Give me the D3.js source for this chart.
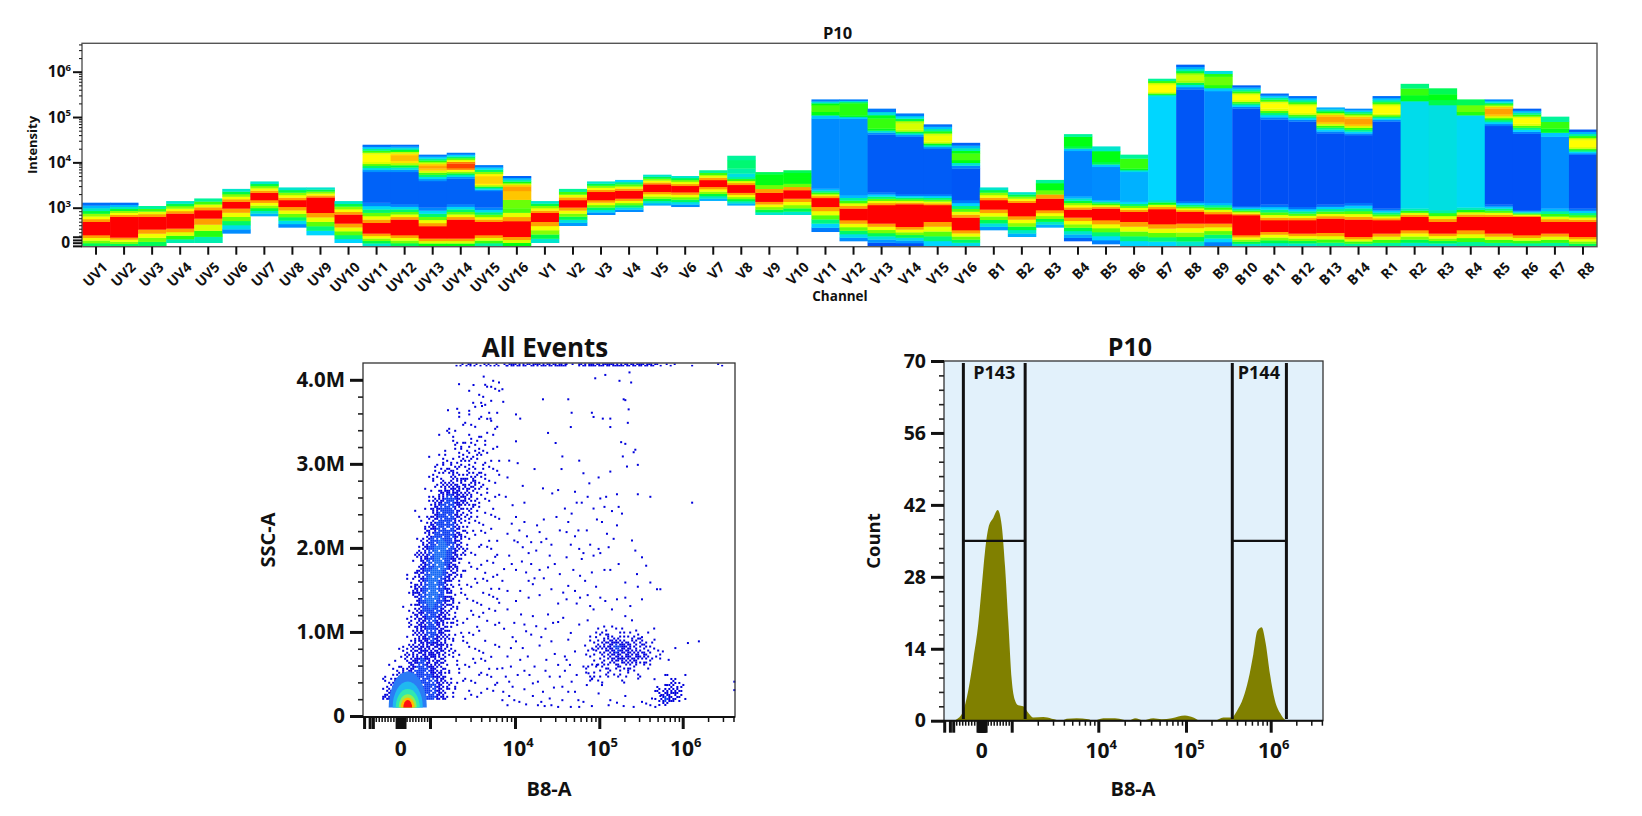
<!DOCTYPE html>
<html>
<head>
<meta charset="utf-8">
<title>P10 spectral and B8-A plots</title>
<script src="https://cdnjs.cloudflare.com/ajax/libs/d3/7.8.5/d3.min.js"></script>
<style>
  html, body { margin: 0; padding: 0; background: #fff; }
  svg { display: block; }
  text { font-family: "Open Sans", "Noto Sans", sans-serif; font-weight: 700; fill: #111; }
  .domain { display: none; }
</style>
</head>
<body>
<svg id="chart" width="1642" height="816"></svg>
<script>
// ---- Spectral ribbon: one column per detector channel ----
const channels = ["UV1","UV2","UV3","UV4","UV5","UV6","UV7","UV8","UV9","UV10","UV11","UV12","UV13","UV14","UV15","UV16",
  "V1","V2","V3","V4","V5","V6","V7","V8","V9","V10","V11","V12","V13","V14","V15","V16",
  "B1","B2","B3","B4","B5","B6","B7","B8","B9","B10","B11","B12","B13","B14",
  "R1","R2","R3","R4","R5","R6","R7","R8"];

// Lower edge of each column
const bottomEdge = [-86,-86,-86,0,0,267,762,438,219,0,-86,-86,-86,-86,-86,-86,
  0,486,800,886,1130,1050,1430,1130,800,800,314,48,-86,-86,-86,-86,
  362,171,438,48,-38,-86,-86,-86,-86,-86,-86,-86,-86,-86,
  -86,-86,-86,-86,-86,-86,-86,-86];
// Negative-population peak (red band)
const redLow = [219,152,381,410,695,981,1480,1050,857,552,267,219,124,124,219,171,
  600,1020,1480,1600,2250,2200,2900,2150,1360,1600,1050,648,552,457,600,362,
  952,762,933,724,648,600,533,552,552,219,314,267,286,171,
  267,362,267,362,267,219,267,171];
const redHigh = [600,743,743,838,933,1360,2150,1480,1700,810,571,667,476,667,600,619,
  857,1480,2250,2400,3300,3050,4100,3200,2150,2450,1650,981,1150,1200,1150,724,
  1480,1290,1600,952,981,886,962,886,819,790,648,648,695,667,
  648,743,600,743,743,743,600,600];
const lowerTop = [1290,1290,1090,1400,1600,2600,3800,2800,2800,1400,1300,1200,1020,1200,1020,981,
  1400,2600,3800,4100,5350,5000,6700,4800,3200,3400,2650,1900,2200,2000,2000,1480,
  2800,2200,2450,1800,1500,1360,1480,1400,1290,1100,1190,1050,1190,1290,
  981,981,933,1020,1190,933,981,981];
// Density level of the gap between the two populations (null: single population)
const valleyLevel = [null,null,null,null,null,null,null,null,null,null,0.3,0.3,0.3,0.3,0.3,3.8,
  null,null,null,null,null,null,null,2.3,4,4,1,1.05,0.2,0.2,0.2,0.1,
  null,null,4,0.9,1,1.5,2,0.1,1,0,0,0,0,0,
  0,2.2,2.3,2.1,0,0,1,0];
const plateauTop = [null,null,null,null,null,null,null,null,null,null,6200,6200,3900,4400,2350,981,
  null,null,null,null,null,null,null,5700,4800,4800,92000,92000,41500,37000,20000,7400,
  null,null,3200,18000,8000,6200,290000,410000,375000,155000,89000,80000,44000,40000,
  80000,225000,184000,110000,64000,43000,37000,14800];
// Positive-population peak
const upperLow = [null,null,null,null,null,null,null,null,null,null,10300,10900,7400,7600,3400,2350,
  null,null,null,null,null,null,null,7400,4800,4800,131000,110000,56000,53000,29000,11300,
  null,null,3200,23000,10300,7400,360000,650000,510000,240000,155000,125000,79000,70000,
  120000,305000,240000,131000,116000,72000,56000,22000];
const upperHigh = [null,null,null,null,null,null,null,null,null,null,15000,14500,8400,9500,5000,2900,
  null,null,null,null,null,null,null,11300,5500,5900,184000,200000,94000,72000,39000,15800,
  null,null,3500,37000,17800,12200,510000,840000,780000,305000,200000,175000,102000,94000,
  175000,430000,320000,184000,155000,94000,79000,31000];
const upperLevel = [null,null,null,null,null,null,null,null,null,null,6,6.7,7,7.6,6.5,7,
  null,null,null,null,null,null,null,3.3,4,4,4.4,4.2,4.3,5.5,5.8,4.4,
  null,null,4,4,4,4.3,6,5.3,4.6,6,6,6,7,7,
  6,4.3,4,4.6,7,6,4.3,6];
const topEdge = [1290,1290,1090,1400,1600,2600,3800,2800,2800,1400,24500,24500,14800,16300,8700,5000,
  1400,2600,3800,4100,5350,5000,6700,14000,6100,6700,245000,245000,153000,120000,69000,27000,
  2800,2200,4100,42000,22500,14800,700000,1430000,1040000,500000,330000,290000,163000,153000,
  290000,540000,430000,245000,245000,153000,102000,53000];
// Density level reached at each column's two ends
const bottomLevel = [3.5,3.5,3.5,2.8,2.8,1,1.5,1,2,2,2.5,3.5,4,4,3,4,
  2.5,1.2,1,1,1.5,1,1.5,1.5,2.5,2.5,0.7,1,0,0,2,2.2,
  1.2,1.5,1.5,0.3,0.8,2,2,2.5,0.8,2.5,2.5,2.5,3,3,
  3,2.5,2.5,3,3,3,3,3.5];
const topLevel = [0.5,0.5,3,2.5,3,2.5,2.5,2.5,2.5,2.5,0.5,0.5,0.7,0.7,0.7,0.3,
  2.5,3,2.5,2,2.5,2.5,3,3,3.5,3.5,0.8,0.8,0.7,0.7,0.5,0.3,
  2.5,2.5,3,3,2.5,3,3,0.3,2.3,0.3,0.5,0.5,1.5,1,
  0.5,3.2,3.5,3.5,1,0.3,3,0.2];

const levelStops = [0,1,2,3,4,5,6,7,8];
const levelColors = ["#0050f5","#008cff","#00d6ff","#00f59a","#00ff14","#b0ff00","#ffff00","#ffa000","#ff0000"];

// ---- SSC-A vs B8-A dot plot ----
// Fill level on a 0-6 scale, rows by SSC-A (M), columns by B8-A
const mainColumns = [-700,-350,0,350,700,1000,1300,1700,2200,2900,3900,5000,6600];
const mainRows = [4.0,3.8,3.6,3.4,3.2,3.0,2.8,2.6,2.4,2.2,2.0,1.8,1.6,1.4,1.2,1.0,0.8,0.6,0.4,0.2];
const mainDensity = [
  [0,0,0,0,0,0,0,0,0,0,1,1,1],
  [0,0,0,0,0,0,0,0,0,1,1,1,1],
  [0,0,0,0,0,0,0,1,1,1,1,1,1],
  [0,0,0,0,0,0,0,1,1,1,1,1,1],
  [0,0,0,0,0,0,1,1,2,2,2,1,1],
  [0,0,0,0,0,1,2,2,2,2,2,1,1],
  [0,0,0,0,0,1,2,3,3,3,2,1,1],
  [0,0,0,0,0,2,4,5,4,3,2,1,1],
  [0,0,0,0,1,3,5,5,3,2,1,1,1],
  [0,0,0,0,1,4,5,5,3,1,1,1,1],
  [0,0,0,0,3,5,6,5,3,1,1,1,1],
  [0,0,0,1,4,5,6,4,2,1,1,1,1],
  [0,0,0,2,4,6,5,3,1,1,1,1,1],
  [0,0,0,2,5,6,5,3,1,1,1,1,1],
  [0,0,0,2,4,5,4,3,1,1,1,1,1],
  [0,0,0,2,4,5,4,2,1,1,1,0,1],
  [0,0,1,3,4,4,4,2,1,1,1,1,1],
  [0,1,2,4,5,4,3,1,1,1,1,1,1],
  [1,3,5,5,5,5,4,2,1,1,1,1,1],
  [3,5,5,5,5,5,4,2,1,1,1,1,1]
];
// Positive cluster near 10^5
const clusterAColumns = [68000,102000,155000,234000,347000,525000];
const clusterARows = [1.1,1.0,0.85,0.7,0.55,0.4];
const clusterADensity = [
  [0,1,1,1,0,0],
  [0,2,2,2,1,0],
  [1,3,5,3,3,0],
  [1,2,4,4,3,1],
  [2,2,2,2,1,0],
  [1,1,1,1,0,0]
];
// Bright cluster near 10^6
const clusterBColumns = [457000,603000,794000,1050000];
const clusterBRows = [0.5,0.4,0.3,0.2,0.12];
const clusterBDensity = [
  [0,1,1,0],
  [0,2,3,1],
  [2,4,4,1],
  [2,5,3,1],
  [0,1,1,0]
];
const fillLevels = [0,1,2,3,4,5,6];
const fillFractions = [0,0.06,0.2,0.42,0.65,0.85,0.95];
const ditherMatrix = [
  [37,2,51,18,43,11,60,27],
  [14,55,30,7,62,34,5,48],
  [41,22,0,46,20,52,25,57],
  [9,59,35,13,39,3,44,16],
  [50,28,6,54,24,63,31,1],
  [19,42,61,33,10,47,12,38],
  [56,4,23,49,29,15,58,26],
  [32,45,17,8,53,36,21,40]
];
// Nested density contours of the negative population: half-width (B8-A), top (SSC-A M), colour
const coreHalfWidth = [650,515,410,310,240,150];
const coreTop = [0.53,0.41,0.32,0.26,0.22,0.19];
const coreColors = ["#2a7cf5","#20b8f0","#30e8b0","#90f050","#ffc000","#ff1010"];
// Individual sparse events: log10(B8-A), SSC-A (M)
const sparseEvents = [
  [3.33,3.96],[3.5,3.95],[3.62,4.05],[3.66,3.93],[3.8,3.98],[3.84,3.9],[3.2,3.65],[3.45,3.6],[3.6,3.7],[3.7,3.55],[3.85,3.75],
  [4.0,3.6],[4.05,3.55],[4.32,3.78],[4.62,3.78],[4.66,3.62],[4.65,3.45],[4.94,4.03],[5.06,4.07],[4.9,3.62],[4.92,3.57],[5.03,3.55],
  [5.12,3.55],[5.12,3.45],[5.33,3.5],[5.34,3.66],[5.35,4.1],[5.37,3.98],[5.23,4.0],[5.28,3.78],[5.3,3.77],[4.38,3.38],[4.47,3.26],
  [4.0,3.28],[4.02,3.02],[3.92,3.05],[3.9,2.85],[4.08,2.75],[4.32,2.72],[4.22,2.95],[4.55,3.1],[4.54,2.95],[4.75,3.05],[4.8,2.9],
  [4.87,2.78],[4.98,2.85],[5.07,2.62],[5.12,2.92],[5.2,2.65],[5.32,2.98],[5.27,3.1],[5.3,3.25],[5.25,3.27],[5.42,3.18],[5.45,3.0],
  [5.4,3.15],[5.6,2.62],[6.1,2.55],[5.45,2.65],[5.05,2.5],[5.0,2.6],[4.85,2.62],[4.78,2.55],[4.72,2.55],[4.5,2.7],[4.43,2.66],
  [4.1,2.55],[4.0,2.38],[3.95,2.3],[3.9,2.18],[3.98,2.1],[3.92,1.92],[3.95,1.82],[3.86,1.76],[3.84,1.62],[3.9,1.5],[4.0,1.75],
  [4.07,1.85],[4.02,2.08],[4.1,2.32],[4.13,2.15],[4.18,2.08],[4.15,1.95],[4.24,1.98],[4.3,2.08],[4.33,2.35],[4.4,1.92],[4.38,1.78],
  [4.28,1.75],[4.33,1.65],[4.2,1.58],[4.15,1.62],[4.05,1.5],[4.0,1.38],[4.15,1.42],[4.28,1.45],[4.42,1.52],[4.5,1.35],[4.52,1.7],
  [4.6,1.9],[4.65,2.05],[4.52,2.22],[4.6,2.2],[4.7,2.15],[4.75,2.0],[4.68,1.75],[4.82,1.62],[4.9,1.72],[4.98,2.0],[5.0,1.95],
  [4.96,2.35],[5.02,2.32],[5.1,2.02],[5.12,1.75],[5.05,1.75],[5.22,1.82],[5.38,2.1],[5.5,1.9],[5.55,1.8],[5.42,1.98],[5.6,1.6],
  [5.68,1.52],[5.72,1.52],[5.45,1.55],[5.3,1.6],[4.95,1.55],[4.85,1.45],[4.72,1.35],[4.6,1.4],[3.9,1.28],[3.86,1.05],[3.96,0.95],
  [4.1,1.1],[3.98,1.12],[4.2,1.2],[4.35,1.05],[4.5,1.13],[4.62,0.92],[4.65,1.0],[4.42,0.9],[4.28,0.85],[4.05,0.68],[3.9,0.72],
  [3.84,0.58],[4.02,0.5],[3.92,0.42],[3.85,0.3],[4.1,0.33],[4.2,0.25],[4.3,0.18],[4.12,0.15],[3.98,0.2],[4.4,0.22],[4.45,0.35],
  [4.5,0.12],[4.55,0.2],[4.62,0.3],[4.66,0.42],[4.72,0.5],[4.8,0.6],[4.84,0.38],[4.9,0.45],[4.5,0.62],[4.35,0.55],[4.22,0.6],
  [4.98,0.28],[5.02,0.38],[5.12,0.2],[5.2,0.17],[5.3,0.25],[5.4,0.12],[5.5,0.18],[5.55,0.16],[5.62,0.22],[5.72,0.25],[5.65,0.45],
  [5.78,0.5],[5.9,0.82],[6.05,0.88],[6.18,0.9],[6.02,0.5],[4.7,0.78],[4.75,1.1],[4.85,1.15],[5.3,1.2],[5.38,1.15],[4.95,0.95],
  [4.82,0.85],[5.5,0.95],[5.65,0.92],[5.75,0.78],[5.82,0.68],[4.58,0.72],[5.8,0.38],[4.8,0.18],[4.65,0.12],[3.9,0.14],[4.75,0.12],
  [6.6,0.32],[6.6,0.42],
  [3.88,2.62],[3.96,2.52],[4.04,2.22],[4.08,2.02],[4.12,1.72],[4.18,1.82],[4.22,1.65],[4.25,2.28],[4.28,2.2],[4.36,2.12],[4.42,2.05],
  [4.46,1.82],[4.48,2.38],[4.58,2.48],[4.62,2.32],[4.66,2.42],[4.7,2.68],[4.74,2.22],[4.78,1.88],[4.8,1.95],[4.84,2.22],[4.88,2.05],
  [4.92,1.92],[5.08,2.18],[5.16,2.12],[5.2,2.28],[5.14,2.45],[5.26,2.42],[5.22,2.5],[4.92,2.48],[4.06,1.22],[4.12,1.02],[4.18,0.98],
  [4.24,1.08],[4.3,0.95],[4.38,1.22],[4.44,1.12],[4.56,1.18],[4.56,1.48],[4.62,1.56],[4.7,1.5],[4.76,1.42],[4.76,1.68],[4.88,1.32],
  [4.92,1.28],[5.0,1.42],[5.06,1.38],[5.14,1.28],[5.2,1.4],[5.3,1.42],[5.36,1.32],[5.44,1.7],[5.5,1.4],[3.94,0.82],[4.0,0.9],[4.08,0.82],
  [4.14,0.72],[4.2,0.4],[4.26,0.42],[4.32,0.3],[4.36,0.68],[4.4,0.48],[4.46,0.75],[4.52,0.48],[4.55,0.36],[4.58,0.55],[4.6,0.68],
  [4.64,0.62],[4.7,0.3],[4.74,0.2],[3.92,0.25],[3.96,0.36],[4.04,0.18],[4.1,0.55],[4.16,0.5],[3.88,0.48],[3.84,0.2],[3.94,0.6],
  [4.26,0.14],[4.34,0.13],[4.42,0.14],[4.9,0.13],[5.1,0.14],[5.28,0.13],[5.6,0.14],[5.66,0.12],[4.88,0.72],[4.92,0.8],[4.96,0.62],[4.86,0.52]
];
// Off-scale events collected along the top edge: log10 start, log10 end, fill fraction
const saturatedRuns = [[3.3,3.9,0.35],[3.9,4.6,0.65],[4.6,4.75,0.2],[4.75,5.7,0.7],[5.7,6.0,0.12],[6.1,6.6,0.08]];

// ---- B8-A histogram ----
const histValues = [-1000,-833,-611,-444,-278,-111,0,111,222,389,533,667,778,889,1000,1090,1190,1360,1560,1780,2320,2900,3780,4310,5620,7670,8750,
  11400,15500,19300,22000,26200,32600,42400,52700,68700,97400,122000,146000,220000,276000,346000,396000,475000,545000,624000,696000,783000,873000,982000,1120000,1290000,1480000,1780000];
const histCounts = [0,0.3,2,6,12,19,26,33,37.5,39.5,41,38,30,19,8,4,3,2.8,1.5,0.6,0.7,0.4,0,0.4,0.5,0.3,0,
  0.5,0.5,0.2,0,0.5,0.1,0.5,0.3,0.5,1,0.6,0,0,0.6,0.6,1.8,4.5,8,13,17.5,18.2,15,9,4,1.5,0.2,0];
const gateNames = ["P143","P144"];
const gateLow = [-611,352000];
const gateHigh = [1430,1530000];
const gateCount = 35;

const longFineTicks = [-1250,-1060,-950,-140,-110,-80,-50,-20,10,40,70,100,130,1000,10000,100000,1000000];
const shortFineTicks = [-850,-750,-650,-550,-450,-350,-250,200,300,400,500,600,700,800,900,
  2000,3000,4000,5000,6000,7000,8000,9000,20000,30000,40000,50000,60000,70000,80000,90000,
  200000,300000,400000,500000,600000,700000,800000,900000,2000000,3000000,4000000];

// Display transform shared by the intensity axes: linear up to 1000, then decades
const displayUnit = v => v <= 1000 ? v / 1000 : 1 + Math.log10(v / 1000);
const svg = d3.select("#chart");
const levelColor = d3.scaleLinear().domain(levelStops).range(levelColors).interpolate(d3.interpolateRgb);

function exponentLabel(sel, size) {
  sel.each(function (d) {
    const t = d3.select(this);
    const e = t.attr("data-exp");
    t.text(null);
    if (e === "zero") { t.text("0"); return; }
    t.append("tspan").text("10");
    t.append("tspan").attr("dy", -size * 0.42).attr("font-size", size * 0.62).text(e);
  });
}

/* ---------- Spectral ribbon ---------- */
const ribbon = { left: 82, right: 1597, top: 43.3, bottom: 246.7 };
const xChannel = d3.scaleBand().domain(channels).range([ribbon.left, ribbon.right]);
const yIntensity = d3.scaleLinear()
  .domain([displayUnit(-114), 0, 1, 4, 4.627])
  .range([ribbon.bottom, 242.7, 207.7, 71.7, ribbon.top]);
const yI = v => yIntensity(displayUnit(v));

svg.append("defs").append("clipPath").attr("id", "ribbon-clip").append("rect")
  .attr("x", ribbon.left).attr("y", ribbon.top)
  .attr("width", ribbon.right - ribbon.left).attr("height", ribbon.bottom - ribbon.top);

function rampBands(y0, level0, y1, level1) {
  const n = Math.max(1, Math.round(Math.abs(level1 - level0)));
  const pos = d3.scaleLinear().domain([0, n]).range([y0, y1]);
  const lev = d3.scaleLinear().domain([0, Math.max(1, n - 1)]).range([level0, level1]);
  return d3.range(n).map(i => ({ a: pos(i), b: pos(i + 1), level: n === 1 ? level1 : lev(i) }));
}
function columnBands(i) {
  const bands = [];
  const flat = (y0, y1, level) => bands.push({ a: y0, b: y1, level });
  bands.push(...rampBands(yI(bottomEdge[i]), bottomLevel[i], yI(redLow[i]), 7));
  flat(yI(redLow[i]), yI(redHigh[i]), 8);
  if (valleyLevel[i] === null) {
    bands.push(...rampBands(yI(redHigh[i]), 7, yI(lowerTop[i]), topLevel[i]));
  } else {
    bands.push(...rampBands(yI(redHigh[i]), 7, yI(lowerTop[i]), valleyLevel[i] + 0.6));
    flat(yI(lowerTop[i]), yI(plateauTop[i]), valleyLevel[i]);
    bands.push(...rampBands(yI(plateauTop[i]), valleyLevel[i] + 0.8, yI(upperLow[i]), upperLevel[i] - 0.4));
    flat(yI(upperLow[i]), yI(upperHigh[i]), upperLevel[i]);
    bands.push(...rampBands(yI(upperHigh[i]), upperLevel[i] - 0.4, yI(topEdge[i]), topLevel[i]));
  }
  return bands;
}
const ribbonG = svg.append("g").attr("clip-path", "url(#ribbon-clip)");
ribbonG.selectAll("g").data(channels).join("g").each(function (c, i) {
  d3.select(this).selectAll("rect").data(columnBands(i)).join("rect")
    .attr("x", xChannel(c))
    .attr("width", xChannel.bandwidth() + 0.4)
    .attr("y", d => Math.min(d.a, d.b))
    .attr("height", d => Math.abs(d.b - d.a) + 0.3)
    .attr("fill", d => levelColor(d.level));
});
svg.append("rect").attr("x", ribbon.left).attr("y", ribbon.top)
  .attr("width", ribbon.right - ribbon.left).attr("height", ribbon.bottom - ribbon.top)
  .attr("fill", "none").attr("stroke", "#555").attr("stroke-width", 1.4);

const xRibbonAxis = svg.append("g").attr("transform", `translate(0,${ribbon.bottom})`)
  .call(d3.axisBottom(xChannel).tickSize(8).tickPadding(3));
xRibbonAxis.selectAll(".tick line").attr("stroke", "#111").attr("stroke-width", 2);
xRibbonAxis.selectAll(".tick text")
  .attr("text-anchor", "end").attr("font-size", 14).attr("font-family", null)
  .attr("transform", "translate(9,18) rotate(-45)").attr("x", 0).attr("y", 0).attr("dy", "0.35em");
xRibbonAxis.attr("font-family", null);

const ribbonMajors = [1000, 10000, 100000, 1000000];
const ribbonBlock = [-90, 0, 80, 170];
const ribbonMinors = [200,300,400,500,600,700,800,900,2000,3000,4000,5000,6000,7000,8000,9000,
  20000,30000,40000,50000,60000,70000,80000,90000,200000,300000,400000,500000,600000,700000,800000,900000,2000000,3000000,4000000];
const minorAxis = svg.append("g").attr("transform", `translate(${ribbon.left},0)`)
  .call(d3.axisLeft(yIntensity).tickValues(ribbonMinors.map(displayUnit)).tickSize(3).tickFormat(""));
minorAxis.selectAll("line").attr("stroke", "#222").attr("stroke-width", 1.1);
const blockAxis = svg.append("g").attr("transform", `translate(${ribbon.left},0)`)
  .call(d3.axisLeft(yIntensity).tickValues(ribbonBlock.map(displayUnit)).tickSize(9).tickFormat(""));
blockAxis.selectAll("line").attr("stroke", "#111").attr("stroke-width", 2);
const majorAxis = svg.append("g").attr("transform", `translate(${ribbon.left},0)`)
  .call(d3.axisLeft(yIntensity).tickValues(ribbonMajors.map(displayUnit)).tickSize(9).tickPadding(2).tickFormat(""));
majorAxis.attr("font-family", null);
majorAxis.selectAll("line").attr("stroke", "#111").attr("stroke-width", 2);
majorAxis.selectAll("text").attr("font-size", 15.5).attr("font-family", null)
  .attr("data-exp", d => String(Math.round(d + 2))).call(exponentLabel, 15.5);
svg.append("text").attr("x", ribbon.left - 12).attr("y", yI(0)).attr("dy", "0.36em")
  .attr("text-anchor", "end").attr("font-size", 15.5).text("0");

svg.append("text").attr("x", 837.5).attr("y", 39).attr("text-anchor", "middle").attr("font-size", 16.5).text("P10");
svg.append("text").attr("x", 840).attr("y", 301).attr("text-anchor", "middle").attr("font-size", 13.5).text("Channel");
svg.append("text").attr("transform", "translate(37,145) rotate(-90)").attr("text-anchor", "middle").attr("font-size", 13).text("Intensity");

/* ---------- Shared pieces of the lower plots ---------- */
function biexTicks(g, scale, plot, labelY) {
  const axisG = g.append("g").attr("transform", `translate(0,${plot.bottom})`);
  const shortT = axisG.append("g")
    .call(d3.axisBottom(scale).tickValues(shortFineTicks.map(displayUnit)).tickSize(5).tickFormat(""));
  shortT.selectAll("line").attr("stroke", "#111").attr("stroke-width", 1.5);
  const longT = axisG.append("g")
    .call(d3.axisBottom(scale).tickValues(longFineTicks.map(displayUnit)).tickSize(12).tickFormat(""));
  longT.selectAll("line").attr("stroke", "#111").attr("stroke-width", 3);
  const labels = [0, 10000, 100000, 1000000];
  const exps = ["zero", "4", "5", "6"];
  g.selectAll("text.xlabel").data(labels).join("text").attr("class", "xlabel")
    .attr("x", d => scale(displayUnit(d)) + (d === 0 ? 0 : 3)).attr("y", labelY)
    .attr("text-anchor", "middle").attr("font-size", 21)
    .attr("data-exp", (d, i) => exps[i]).call(exponentLabel, 21);
}
function frame(g, plot) {
  g.append("rect").attr("x", plot.left).attr("y", plot.top)
    .attr("width", plot.right - plot.left).attr("height", plot.bottom - plot.top)
    .attr("fill", "none").attr("stroke", "#333").attr("stroke-width", 1.3);
  g.append("line").attr("x1", plot.left).attr("x2", plot.right)
    .attr("y1", plot.bottom).attr("y2", plot.bottom).attr("stroke", "#111").attr("stroke-width", 2);
}
function yTicks(g, scale, plot, majors, minors, fmt, fontSize) {
  const minorG = g.append("g").attr("transform", `translate(${plot.left},0)`)
    .call(d3.axisLeft(scale).tickValues(minors).tickSize(5).tickFormat(""));
  minorG.selectAll("line").attr("stroke", "#222").attr("stroke-width", 1.6);
  const majorG = g.append("g").attr("transform", `translate(${plot.left},0)`)
    .call(d3.axisLeft(scale).tickValues(majors).tickSize(13).tickPadding(5).tickFormat(fmt));
  majorG.attr("font-family", null);
  majorG.selectAll("line").attr("stroke", "#111").attr("stroke-width", 3);
  majorG.selectAll("text").attr("font-size", fontSize).attr("font-family", null);
}

/* ---------- SSC-A vs B8-A ---------- */
const dot = { left: 363, right: 735, top: 363, bottom: 717 };
const xDot = d3.scaleLinear().domain([-1.287, 0, 1, 2, 3, 4, 4.62]).range([dot.left, 400.7, 430, 515, 599.3, 682.7, dot.right]);
const yDot = d3.scaleLinear().domain([-0.012, 4.2]).range([dot.bottom, dot.top]);
const dotG = svg.append("g");
svg.select("defs").append("clipPath").attr("id", "core-clip").append("rect")
  .attr("x", dot.left).attr("width", dot.right - dot.left)
  .attr("y", dot.top).attr("height", yDot(0.1) - dot.top);

const fillOf = d3.scaleLinear().domain(fillLevels).range(fillFractions).clamp(true);
const threshold = (col, row) => (ditherMatrix[(row + 3 * Math.floor(col / 8)) % 8][(col + 5 * Math.floor(row / 8)) % 8] + 0.5) / 64;

function sampleTable(columns, rows, table, u, ssc) {
  const cols = columns.map(displayUnit);
  if (u < cols[0] || u > cols[cols.length - 1] || ssc > rows[0] || ssc < rows[rows.length - 1]) return 0;
  const ci = Math.min(cols.length - 2, d3.bisectRight(cols, u) - 1);
  const desc = rows.map(r => -r);
  const ri = Math.min(rows.length - 2, d3.bisectRight(desc, -ssc) - 1);
  const fc = (u - cols[ci]) / (cols[ci + 1] - cols[ci]);
  const fr = (rows[ri] - ssc) / (rows[ri] - rows[ri + 1]);
  const top = table[ri][ci] * (1 - fc) + table[ri][ci + 1] * fc;
  const bot = table[ri + 1][ci] * (1 - fc) + table[ri + 1][ci + 1] * fc;
  return top * (1 - fr) + bot * fr;
}
const densityTables = [
  { columns: mainColumns, rows: mainRows, table: mainDensity },
  { columns: clusterAColumns, rows: clusterARows, table: clusterADensity },
  { columns: clusterBColumns, rows: clusterBRows, table: clusterBDensity }
];
const speckColor = d => d > 5.3 ? "#1468f5" : d > 4.4 ? "#0a3cf2" : "#0000dc";
const specks = [];
densityTables.forEach(t => {
  const cols = t.columns.map(displayUnit);
  const px0 = xDot(cols[0]), px1 = xDot(cols[cols.length - 1]);
  const py0 = yDot(t.rows[0]), py1 = Math.min(yDot(t.rows[t.rows.length - 1]), yDot(0.1));
  for (let py = py0; py < py1; py += 2) {
    for (let px = px0; px < px1; px += 2) {
      const d = sampleTable(t.columns, t.rows, t.table, xDot.invert(px), yDot.invert(py));
      if (fillOf(d) > threshold(Math.round(px / 2), Math.round(py / 2))) specks.push({ px, py, d });
    }
  }
});
dotG.selectAll("rect.speck").data(specks).join("rect").attr("class", "speck")
  .attr("x", d => d.px).attr("y", d => d.py).attr("width", 2).attr("height", 2)
  .attr("fill", d => speckColor(d.d));

dotG.selectAll("rect.event").data(sparseEvents).join("rect").attr("class", "event")
  .attr("x", d => xDot(displayUnit(Math.pow(10, d[0])))).attr("y", d => yDot(d[1]))
  .attr("width", 2).attr("height", 2).attr("fill", "#0000dc");

// Events piled up at the top of the SSC-A range
const saturated = [];
saturatedRuns.forEach(run => {
  const a = xDot(run[0] - 2), b = Math.min(dot.right - 1, xDot(run[1] - 2));
  for (let px = a; px < b; px += 2) {
    [0, 1].forEach(r => { if (run[2] > threshold(Math.round(px / 2), r)) saturated.push({ px, r }); });
  }
});
dotG.selectAll("rect.sat").data(saturated).join("rect").attr("class", "sat")
  .attr("x", d => d.px).attr("y", d => dot.top + 0.5 + d.r * 1.4).attr("width", 2).attr("height", 1.5)
  .attr("fill", "#0000dc");

const coreCenterX = 240;
const coreG = dotG.append("g").attr("clip-path", "url(#core-clip)");
coreG.selectAll("ellipse").data(coreHalfWidth).join("ellipse")
  .attr("cx", xDot(displayUnit(coreCenterX)))
  .attr("cy", yDot(0.1))
  .attr("rx", d => xDot(displayUnit(coreCenterX + d)) - xDot(displayUnit(coreCenterX)))
  .attr("ry", (d, i) => yDot(0.1) - yDot(coreTop[i]))
  .attr("fill", (d, i) => coreColors[i]);

frame(dotG, dot);
const sscFormat = d => d === 0 ? "0" : d.toFixed(1) + "M";
yTicks(dotG, yDot, dot, [0, 1, 2, 3, 4], [0.2,0.4,0.6,0.8,1.2,1.4,1.6,1.8,2.2,2.4,2.6,2.8,3.2,3.4,3.6,3.8], sscFormat, 20.5);
biexTicks(dotG, xDot, dot, 756);
svg.append("text").attr("x", 545).attr("y", 357).attr("text-anchor", "middle").attr("font-size", 26).text("All Events");
svg.append("text").attr("x", 549).attr("y", 796).attr("text-anchor", "middle").attr("font-size", 20).text("B8-A");
svg.append("text").attr("transform", "translate(275,540) rotate(-90)").attr("text-anchor", "middle").attr("font-size", 20).text("SSC-A");

/* ---------- B8-A histogram ---------- */
const hist = { left: 944, right: 1323, top: 361, bottom: 720.7 };
const xHist = d3.scaleLinear().domain([-1.257, 0, 1, 2, 3, 4, 4.615]).range([hist.left, 981.7, 1011.7, 1098.3, 1186, 1270.7, hist.right]);
const yHist = d3.scaleLinear().domain([0, 70]).range([hist.bottom, hist.top]);
const histG = svg.append("g");
histG.append("rect").attr("x", hist.left).attr("y", hist.top)
  .attr("width", hist.right - hist.left).attr("height", hist.bottom - hist.top).attr("fill", "#e2f1fb");
const histArea = d3.area()
  .x((d, i) => xHist(displayUnit(histValues[i])))
  .y0(yHist(0)).y1(d => yHist(d))
  .curve(d3.curveMonotoneX);
histG.append("path").attr("d", histArea(histCounts)).attr("fill", "#808000");
frame(histG, hist);

gateNames.forEach((name, i) => {
  const x0 = xHist(displayUnit(gateLow[i])), x1 = xHist(displayUnit(gateHigh[i]));
  const gate = histG.append("g").attr("stroke", "#111");
  gate.append("line").attr("x1", x0).attr("x2", x0).attr("y1", 363).attr("y2", 719).attr("stroke-width", 3);
  gate.append("line").attr("x1", x1).attr("x2", x1).attr("y1", 363).attr("y2", 719).attr("stroke-width", 3);
  gate.append("line").attr("x1", x0).attr("x2", x1).attr("y1", yHist(gateCount)).attr("y2", yHist(gateCount)).attr("stroke-width", 2.4);
  histG.append("text").attr("x", (x0 + x1) / 2 + (i === 0 ? 0 : -0.5)).attr("y", 379)
    .attr("text-anchor", "middle").attr("font-size", 18).text(name);
});
const countMinors = [2.8,5.6,8.4,11.2,16.8,19.6,22.4,25.2,30.8,33.6,36.4,39.2,44.8,47.6,50.4,53.2,58.8,61.6,64.4,67.2];
yTicks(histG, yHist, hist, [0, 14, 28, 42, 56, 70], countMinors, d => String(d), 19.5);
biexTicks(histG, xHist, hist, 758);
svg.append("text").attr("x", 1130).attr("y", 356).attr("text-anchor", "middle").attr("font-size", 25).text("P10");
svg.append("text").attr("x", 1133).attr("y", 796).attr("text-anchor", "middle").attr("font-size", 20).text("B8-A");
svg.append("text").attr("transform", "translate(880,541) rotate(-90)").attr("text-anchor", "middle").attr("font-size", 18.5).text("Count");
</script>
</body>
</html>
